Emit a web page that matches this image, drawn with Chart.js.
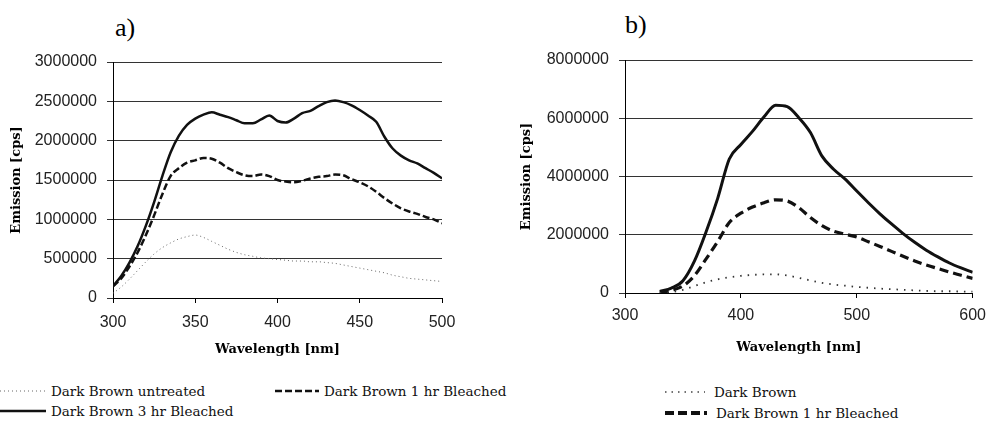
<!DOCTYPE html>
<html>
<head>
<meta charset="utf-8">
<script src="https://cdn.jsdelivr.net/npm/chart.js@4.4.1/dist/chart.umd.min.js"></script>
<style>
  html, body { margin: 0; padding: 0; background: #fff; }
  body { width: 994px; height: 422px; position: relative; overflow: hidden; }
  canvas { position: absolute; top: 0; }
  #chartA { left: 0; }
  #chartB { left: 500px; }
  .panel { position: absolute; font-family: "Liberation Serif", serif; font-size: 26px; line-height: 26px; color: #000; }
  .leg { position: absolute; font-family: "DejaVu Serif", serif; font-size: 13.5px; line-height: 16px; color: #111; white-space: nowrap; display: flex; align-items: center; }
  .leg svg { margin-right: 5px; }
  .leg.b svg { margin-right: 9px; }
</style>
</head>
<body>
<div class="panel" style="left:115px; top:15px;">a)</div>
<div class="panel" style="left:625px; top:12px;">b)</div>
<canvas id="chartA" width="470" height="370"></canvas>
<canvas id="chartB" width="494" height="370"></canvas>

<!-- legend a -->
<div class="leg" style="left:0; top:383px;">
  <svg width="46" height="6"><line x1="0" y1="3" x2="46" y2="3" stroke="#666" stroke-width="1" stroke-dasharray="1,3"/></svg>Dark Brown untreated
</div>
<div class="leg" style="left:275px; top:383px;">
  <svg width="44" height="6"><line x1="0" y1="3" x2="44" y2="3" stroke="#111" stroke-width="2.5" stroke-dasharray="7,3"/></svg>Dark Brown 1 hr Bleached
</div>
<div class="leg" style="left:0; top:403px;">
  <svg width="46" height="6"><line x1="0" y1="3" x2="46" y2="3" stroke="#111" stroke-width="2.5"/></svg>Dark Brown 3 hr Bleached
</div>
<!-- legend b -->
<div class="leg b" style="left:665px; top:384px;">
  <svg width="40" height="6"><line x1="0" y1="3" x2="40" y2="3" stroke="#444" stroke-width="1.5" stroke-dasharray="1.5,5"/></svg>Dark Brown
</div>
<div class="leg b" style="left:665px; top:405px;">
  <svg width="42" height="6"><line x1="0" y1="3" x2="42" y2="3" stroke="#111" stroke-width="4" stroke-dasharray="9,4"/></svg>Dark Brown 1 hr Bleached
</div>

<script>
// ---------- data a) ----------
const wlA = [300,305,310,315,320,325,330,335,340,345,350,355,360,365,370,375,380,385,390,395,
             400,405,410,415,420,425,430,435,440,445,450,455,460,465,470,475,480,485,490,495,500];
const untreatedA = [60000,140000,240000,350000,460000,560000,640000,700000,750000,780000,800000,770000,720000,670000,620000,580000,550000,530000,510000,500000,
                    490000,480000,470000,470000,460000,460000,450000,440000,420000,400000,380000,360000,340000,320000,290000,270000,250000,240000,230000,220000,210000];
const bleached1hA = [150000,250000,400000,580000,800000,1050000,1320000,1550000,1650000,1720000,1750000,1780000,1770000,1720000,1650000,1600000,1560000,1550000,1570000,1550000,
                     1500000,1480000,1470000,1490000,1520000,1540000,1550000,1570000,1560000,1510000,1470000,1420000,1350000,1270000,1200000,1140000,1100000,1070000,1030000,1000000,950000];
const bleached3hA = [150000,280000,450000,660000,920000,1220000,1550000,1850000,2060000,2200000,2280000,2330000,2360000,2330000,2300000,2260000,2220000,2220000,2270000,2320000,
                     2250000,2230000,2280000,2350000,2380000,2440000,2490000,2510000,2490000,2450000,2390000,2320000,2240000,2050000,1900000,1810000,1750000,1710000,1650000,1590000,1520000];

// ---------- data b) ----------
const wlB = [330,340,350,360,370,380,390,400,410,420,430,440,450,460,470,480,490,500,510,520,530,540,550,560,570,580,590,600];
const darkBrownB = [0,30000,110000,240000,370000,470000,540000,590000,620000,640000,640000,600000,520000,430000,350000,290000,250000,210000,180000,150000,130000,110000,90000,70000,60000,60000,50000,50000];
const bleached1hB = [0,90000,240000,600000,1170000,1770000,2420000,2740000,2950000,3100000,3200000,3160000,2930000,2590000,2310000,2120000,2020000,1920000,1760000,1600000,1430000,1260000,1100000,960000,840000,720000,610000,500000];
const bleached3hB = [50000,170000,420000,1100000,2100000,3250000,4600000,5100000,5550000,6050000,6450000,6400000,6020000,5510000,4700000,4250000,3910000,3500000,3100000,2720000,2370000,2040000,1740000,1470000,1240000,1030000,860000,710000];

const tickFont = { family: "Liberation Sans", size: 16 };
const titleFont = { family: "DejaVu Serif", size: 13, weight: "bold" };

function pts(xs, ys) {
  return xs.map((x, i) => ({ x, y: ys[i] }));
}

function line(data, opts) {
  return Object.assign({
    data,
    borderColor: "#111",
    borderWidth: 2.5,
    pointRadius: 0,
    fill: false,
    cubicInterpolationMode: "monotone"
  }, opts);
}

function makeChart(id, datasets, s) {
  return new Chart(document.getElementById(id), {
    type: "line",
    data: { datasets },
    options: {
      responsive: false,
      animation: false,
      layout: { padding: s.padding },
      plugins: { legend: { display: false }, tooltip: { enabled: false } },
      scales: {
        x: {
          type: "linear",
          min: s.xMin, max: s.xMax,
          ticks: { stepSize: s.xStep, font: tickFont, color: "#222", padding: s.xPad, callback: v => String(v) },
          grid: { drawOnChartArea: false, drawTicks: true, tickLength: 5, color: "#000" },
          border: { display: true, color: "#000", width: 1 },
          title: { display: true, text: "Wavelength [nm]", font: titleFont, color: "#000", padding: { top: 0, bottom: s.xTitlePad } },
          afterFit: sc => { sc.height = s.xHeight; }
        },
        y: {
          min: 0, max: s.yMax,
          ticks: { stepSize: s.yStep, font: tickFont, color: "#222", padding: 10, callback: v => String(v) },
          grid: { color: "#333", lineWidth: 1, tickLength: 6 },
          border: { display: true, color: "#000", width: 1 },
          title: { display: true, text: "Emission [cps]", font: titleFont, color: "#000", padding: { top: s.yTitlePad, bottom: 0 } },
          afterFit: sc => { sc.width = s.yWidth; }
        }
      }
    }
  });
}

makeChart("chartA", [
  line(pts(wlA, untreatedA), { borderColor: "#666", borderWidth: 1, borderDash: [1, 3] }),
  line(pts(wlA, bleached1hA), { borderDash: [7, 3] }),
  line(pts(wlA, bleached3hA), {})
], {
  padding: { left: 0, top: 62, right: 28, bottom: 0 },
  xMin: 300, xMax: 500, xStep: 50, xPad: 10, xHeight: 72, xTitlePad: 13,
  yMax: 3000000, yStep: 500000, yWidth: 113, yTitlePad: 9
});

makeChart("chartB", [
  line(pts(wlB, darkBrownB), { borderColor: "#333", borderWidth: 1.8, borderDash: [1.5, 6] }),
  line(pts(wlB, bleached1hB), { borderWidth: 3.2, borderDash: [9, 5] }),
  line(pts(wlB, bleached3hB), { borderWidth: 3 })
], {
  padding: { left: 0, top: 60, right: 18, bottom: 0 },
  xMin: 300, xMax: 600, xStep: 100, xPad: 8, xHeight: 77, xTitlePad: 15,
  yMax: 8000000, yStep: 2000000, yWidth: 125, yTitlePad: 19
});
</script>
</body>
</html>
